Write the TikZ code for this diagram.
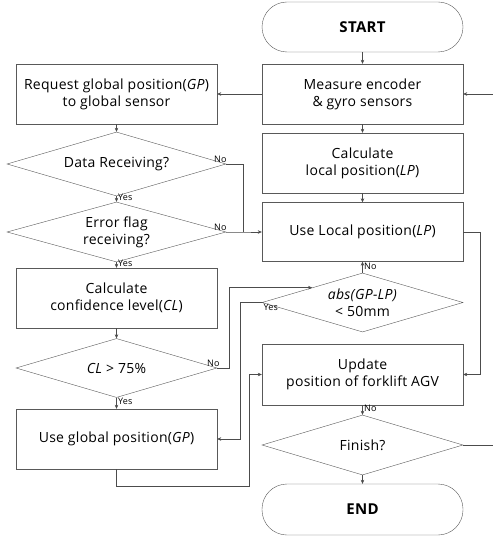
\documentclass[tikz,border=0pt]{standalone}
\usepackage{fontspec}
\setmainfont{Open Sans}[LetterSpace=2]
\usetikzlibrary{shapes.geometric, calc, positioning, arrows.meta}

\begin{document}
\begin{tikzpicture}[x=1pt, y=-1pt,
    >={Stealth[length=4pt,width=3.5pt]},
    box/.style={draw=black!65, rectangle, minimum width=201pt, minimum height=60pt,
                align=center, font=\fontsize{14}{17}\selectfont},
    decision/.style={draw=black!65, diamond, aspect=3.4, inner sep=0pt,
                align=center, font=\fontsize{14}{17}\selectfont},
    term/.style={draw=black!65, rectangle, rounded corners=25pt, minimum width=201pt,
                minimum height=50pt, font=\fontsize{15}{17}\selectfont\bfseries},
    arr/.style={->, draw=black!70},
    line/.style={draw=black!70},
    lbl/.style={font=\fontsize{9}{10}\selectfont, inner sep=1.5pt}]
  \useasboundingbox (0,0) rectangle (492,537);

  % right column
  \node[term] (start) at (362.5,27) {START};
  \node[box] (measure) at (362.5,94) {Measure encoder\\\& gyro sensors};
  \node[box] (calclp) at (362.5,163) {Calculate\\local position(\textit{LP})};
  \node[box, minimum height=59pt] (uselocal) at (362.5,232) {Use Local position(\textit{LP})};
  \node[decision, minimum width=201pt, minimum height=59pt] (absdiff) at (362.5,302.5)
       {\textit{abs(GP-LP)}\\< 50mm};
  \node[box, minimum height=61pt] (update) at (362.5,374.5) {Update\\position of forklift AGV};
  \node[decision, minimum width=201pt, minimum height=60pt] (finish) at (362.5,445) {Finish?};
  \node[term, minimum height=51pt] (stop) at (362.5,509.5) {END};

  % left column
  \node[box] (request) at (116.5,94) {Request global position(\textit{GP})\\to global sensor};
  \node[decision, minimum width=219pt, minimum height=64pt] (datarx) at (116.5,164)
       {Data Receiving?};
  \node[decision, minimum width=219pt, minimum height=60pt] (errflag) at (116.5,232)
       {Error flag\\receiving?};
  \node[box] (calccl) at (116.5,298) {Calculate\\confidence level(\textit{CL})};
  \node[decision, minimum width=201pt, minimum height=59pt] (clcheck) at (116.5,368)
       {\textit{CL} > 75\%};
  \node[box] (useglobal) at (116.5,439) {Use global position(\textit{GP})};

  % main flow
  \draw[arr] (start) -- (measure);
  \draw[arr] (measure) -- (request);
  \draw[arr] (measure) -- (calclp);
  \draw[arr] (calclp) -- (uselocal);
  \draw[arr] (request) -- (datarx);
  \draw[arr] (datarx) -- node[lbl, right, pos=0.2] {Yes} (errflag);
  \draw[arr] (errflag) -- node[lbl, right, pos=0.2] {Yes} (calccl);
  \draw[arr] (calccl) -- (clcheck);
  \draw[arr] (clcheck) -- node[lbl, right, pos=0.3] {Yes} (useglobal);
  \draw[arr] (update) -- node[lbl, right, pos=0.3] {No} (finish);
  \draw[arr] (finish) -- (stop);

  % "No" branches to local position
  \coordinate (jn) at ($(errflag.east)+(17,0)$);
  \draw[line] (datarx.east) -| (jn);
  \draw[arr] (errflag.east) -- (jn) -- (uselocal.west);
  \node[lbl, anchor=south east] at ($(datarx.east)+(2,0)$) {No};
  \node[lbl, anchor=south east] at ($(errflag.east)+(2,0)$) {No};

  % confidence check
  \draw[arr] (clcheck.east) -- ++(12,0) |- ($(absdiff.west)!0.5!(absdiff.north)$);
  \node[lbl, anchor=south east] at ($(clcheck.east)+(4,0)$) {No};

  % position difference check
  \draw[arr] (absdiff.west) -- ++(-22,0) |- (useglobal.east);
  \node[lbl, anchor=north west] at (absdiff.west) {Yes};
  \draw[arr] (absdiff.north) -- node[lbl, right, pos=0.6] {No} (uselocal.south);

  % into update
  \coordinate (ug) at ($(update.west)+(-13,0)$);
  \draw[arr] (useglobal.south) -- ++(0,17) -| (ug) -- (update.west);
  \draw[arr] (uselocal.east) -- ++(17,0) |- (update.east);

  % loop back from finish
  \coordinate (back) at (497,0);
  \draw[arr] (finish.east) -- (back |- finish.east) -- (back |- measure.east) -- (measure.east);
\end{tikzpicture}
\end{document}
